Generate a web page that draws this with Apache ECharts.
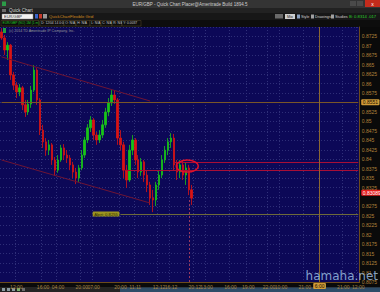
<!DOCTYPE html>
<html><head><meta charset="utf-8">
<script src="https://cdn.jsdelivr.net/npm/echarts@6/dist/echarts.min.js"></script>
<style>html,body{margin:0;padding:0;background:#0a0a0a;overflow:hidden}#c{width:380px;height:292px}</style>
</head><body><div id="c"></div>
<script>
// ---- data ----
const slotCount = 121;
const tickLabels = {5:'12:00',14:'16:00',19:'04:00',27:'20:00',31:'07:00',40:'20:00',45:'11:11',53:'12:12',57:'16:12',65:'20:12',69:'13:00',77:'16:00',83:'19:00',90:'22:00',94:'10:00',102:'21:00',115:'21:00',120:'12:00'};
// [open, close, low, high]
const candles = [
[.8737,.8721,.8716,.8747],[.8721,.8689,.8676,.8729],[.8689,.8702,.8663,.8710],[.8702,.8623,.8610,.8705],
[.8623,.8596,.8583,.8631],[.8596,.8578,.8562,.8604],[.8578,.8589,.8567,.8599],[.8589,.8544,.8530,.8594],
[.8544,.8525,.8512,.8557],[.8525,.8546,.8517,.8557],[.8546,.8583,.8536,.8594],[.8583,.8636,.8578,.8649],
[.8636,.8557,.8544,.8641],[.8557,.8477,.8464,.8562],[.8477,.8446,.8430,.8491],[.8446,.8424,.8409,.8456],
[.8424,.8438,.8411,.8451],[.8438,.8398,.8385,.8443],[.8398,.8371,.8356,.8406],[.8371,.8398,.8364,.8411],
[.8398,.8430,.8393,.8438],[.8430,.8411,.8398,.8440],[.8411,.8403,.8390,.8424],[.8403,.8385,.8371,.8411],
[.8385,.8366,.8350,.8393],[.8366,.8350,.8334,.8377],[.8350,.8377,.8340,.8385],[.8377,.8411,.8371,.8424],
[.8411,.8451,.8403,.8459],[.8451,.8483,.8443,.8493],[.8483,.8504,.8472,.8514],[.8504,.8464,.8451,.8509],
[.8464,.8451,.8438,.8472],[.8451,.8464,.8443,.8477],[.8464,.8491,.8456,.8504],[.8491,.8525,.8483,.8536],
[.8525,.8549,.8514,.8562],[.8549,.8570,.8541,.8583],[.8570,.8557,.8546,.8583],[.8557,.8456,.8438,.8562],
[.8456,.8438,.8424,.8477],[.8438,.8371,.8350,.8446],[.8371,.8345,.8324,.8385],[.8345,.8424,.8340,.8438],
[.8424,.8451,.8411,.8464],[.8451,.8398,.8385,.8456],[.8398,.8366,.8350,.8411],[.8366,.8393,.8356,.8403],
[.8393,.8358,.8340,.8398],[.8358,.8332,.8313,.8371],[.8332,.8297,.8279,.8340],[.8297,.8292,.8260,.8319],
[.8292,.8332,.8276,.8340],[.8332,.8358,.8319,.8371],[.8358,.8398,.8350,.8411],[.8398,.8424,.8390,.8435],
[.8424,.8446,.8411,.8456],[.8446,.8456,.8430,.8469],[.8456,.8385,.8371,.8467],[.8385,.8366,.8345,.8398],
[.8366,.8385,.8350,.8398],[.8385,.8358,.8345,.8398],[.8358,.8377,.8332,.8390],[.8377,.8319,.8305,.8385],
[.8319,.8297,.8279,.8332]
];
const trendUpper = [[0, 0.8671], [50, 0.8554]];
const trendLower = [[0, 0.8398], [50, 0.8284]];
const crossPrice = 0.8551, crossSlot = 107, crossTime = '6:00';
const alertPrice = 0.8255, alertFrom = 40;
const redLevels = [[58, 0.8391], [42, 0.8371]];
const lastPrice = 0.8311, lastText = '0.83089';
const circleAt = [63, 0.8382];
const nowSlot = 63, nowFrom = 0.8292;
const yMin = 0.8075, yMax = 0.875, yStep = 0.0025;

const categories = Array.from({length: slotCount}, (_, i) => tickLabels[i] || '');
const lastSlot = slotCount - 1;

const chart = echarts.init(document.getElementById('c'), null, {renderer: 'svg'});
const F = 'Liberation Sans';
const txt = (x, y, t, fill, size, align) => ({type:'text', x, y, style:{text:t, fill, font: size + 'px "' + F + '"', align: align || 'left', verticalAlign:'middle'}});
const rect = (x, y, w, h, fill, stroke) => ({type:'rect', shape:{x, y, width:w, height:h}, style:{fill, stroke: stroke || null, lineWidth: stroke ? 0.5 : 0}});

const infoBoxes = [['D: 12/04 14 0:00', 40, 24], ['O: N/A', 64, 12], ['H: N/A', 76, 14], ['L: N/A', 90, 11], ['C: N/A', 101, 11], ['R: N/A', 112, 10], ['Y: 0.0037', 122, 19]];

const graphic = [
  rect(0, 0, 380, 8, '#343434'),
  rect(2, 1.5, 4, 4.5, '#2c9c48'),
  txt(190, 4.2, 'EUR/GBP - Quick Chart Placer@Ameritrade Build 1894.5', '#cfcfcf', 4.5, 'center'),
  rect(350, 1, 6, 5, '#4a4a4a'), rect(357, 1, 6, 5, '#4a4a4a'),
  rect(365, 0, 15, 7, '#c42b1c'), txt(372.5, 3.6, 'x', '#ffffff', 5, 'center'),
  rect(0, 8, 380, 5, '#222222'),
  rect(2, 9, 4, 3, '#6a6a6a'),
  txt(9, 10.6, 'Quick Chart', '#d8d8d8', 4.5),
  rect(0, 13, 380, 7, '#171717'),
  rect(2, 14, 31, 5, '#f2f2f2', '#8a8a8a'),
  txt(4, 16.6, 'EUR/GBP', '#202020', 4),
  rect(35, 14, 3, 4.5, '#3a64c8'), rect(39, 14, 3, 4.5, '#c83a2a'), rect(43, 14, 4, 4.5, '#9a9a9a'),
  txt(49, 16.6, 'QuickChartFlexible Grid', '#d08a20', 4.2),
  rect(275, 14, 8, 4.5, '#6a6a6a'),
  rect(285, 14, 10, 5, '#cfcfcf'), txt(290, 16.6, 'Mix', '#202020', 3.8, 'center'),
  rect(297, 14.5, 3, 4, '#8aa0c0'), txt(301, 16.6, 'Style', '#d0d0d0', 3.8),
  rect(311, 14.5, 3, 4, '#a0a0a0'), txt(315, 16.6, 'Drawings', '#d0d0d0', 3.8),
  rect(331, 14.5, 3, 4, '#a0a0a0'), txt(335, 16.6, 'Studies', '#d0d0d0', 3.8),
  txt(349, 16.6, 'B: 0.8314', '#2ad02a', 4.2),
  txt(368, 16.6, '.017', '#2ad02a', 4.2),
  rect(0, 20, 380, 7, '#0d0d0d'),
  rect(1, 20.5, 38, 5.5, '#0d0d0d', '#5a4a2a'),
  txt(2.5, 23.3, 'EUR/GBP (NO) 1M (1 m)', '#22c422', 3.3),
  ...infoBoxes.flatMap(b => [rect(b[1], 20.5, b[2], 5.5, '#0d0d0d', '#5a4a2a'), txt(b[1] + 1.2, 23.3, b[0], '#c8c8c8', 3.3)]),
  rect(0, 287, 380, 5, '#242424'),
  rect(2, 288, 3, 3, '#8a9aa0'), rect(7, 288, 3, 3, '#8a9aa0'), rect(12, 288, 3, 3, '#8a9aa0'), rect(17, 288, 3, 3, '#7ab070'), rect(22, 288, 3, 3, '#6a6a6a'),
  rect(120, 287.5, 260, 4.5, '#2e4c68'),
  {type:'text', z: 100, x: 378, y: 276, style:{text:'hamaha.net', fill:'rgba(165,200,235,0.8)', font:'12px "DejaVu Sans"', align:'right', verticalAlign:'middle'}}
];

const lbl = (o) => Object.assign({show: true, fontSize: 5, fontFamily: F, padding: [0.5, 1.5], borderRadius: 1}, o);
const nearTag = (v) => Math.abs(v - crossPrice) < 0.0012 || Math.abs(v - lastPrice) < 0.0012;
const hLine = (from, v, lineStyle, label) => [{coord: [from, v], lineStyle, label: label || {show: false}}, {coord: [lastSlot, v]}];

chart.setOption({
  animation: false,
  backgroundColor: '#0a0a0a',
  grid: {left: 0, right: 16, top: 27, bottom: 10, show: true, backgroundColor: '#0c0857', borderWidth: 0},
  xAxis: {
    type: 'category', data: categories, boundaryGap: true,
    axisLine: {show: true, lineStyle: {color: '#6b4a1c'}},
    axisTick: {show: false},
    axisLabel: {interval: (i) => categories[i] !== '', color: '#a88444', fontSize: 5, fontFamily: F, margin: 2},
    splitLine: {show: true, interval: (i) => categories[i] !== '', lineStyle: {color: '#30307a', type: [1, 2], width: 1}}
  },
  yAxis: {
    type: 'value', position: 'right', min: yMin, max: yMax, interval: yStep, scale: true,
    axisLine: {show: true, lineStyle: {color: '#6b4a1c'}},
    axisTick: {show: false},
    axisLabel: {color: '#b0823a', fontSize: 5, fontFamily: F, margin: 2, showMaxLabel: false, showMinLabel: true,
      formatter: (v) => nearTag(v) ? '' : String(parseFloat(v.toFixed(4)))},
    splitLine: {show: true, lineStyle: {color: '#2e2e78', type: [1, 2], width: 1}}
  },
  graphic,
  series: [{
    type: 'candlestick', data: candles, barWidth: 2,
    itemStyle: {color: '#18c418', color0: '#d81414', borderColor: '#18c418', borderColor0: '#d81414', borderWidth: 0.8},
    markLine: {
      silent: true, symbol: ['none', 'none'], animation: false,
      data: [
        [{coord: trendUpper[0], lineStyle: {color: '#6e1434', width: 1, type: 'solid'}, label: {show: false}}, {coord: trendUpper[1]}],
        [{coord: trendLower[0], lineStyle: {color: '#6e1434', width: 1, type: 'solid'}, label: {show: false}}, {coord: trendLower[1]}],
        hLine(redLevels[0][0], redLevels[0][1], {color: '#a80e36', width: 1, type: 'solid'}),
        hLine(redLevels[1][0], redLevels[1][1], {color: '#a80e36', width: 1, type: 'solid'}),
        [{coord: [alertFrom, alertPrice], lineStyle: {color: '#6e6a3a', width: 1, type: 'solid'},
          label: lbl({position: 'start', formatter: 'Alert: ' + alertPrice, backgroundColor: '#9c9420', color: '#2a2800', fontSize: 4.2, distance: 1})},
         {coord: [lastSlot, alertPrice]}],
        [{coord: [nowSlot, nowFrom], lineStyle: {color: '#9a3a60', width: 1, type: [2, 2]}, label: {show: false}}, {coord: [nowSlot, yMin]}],
        hLine(0, crossPrice, {color: '#7a5628', width: 1, type: 'solid'},
          lbl({position: 'end', formatter: String(crossPrice), backgroundColor: '#d09a38', color: '#1a1000', distance: 3})),
        [{coord: [crossSlot, yMin], lineStyle: {color: '#8a6632', width: 1, type: 'solid'},
          label: lbl({position: 'start', formatter: crossTime, backgroundColor: '#d09a38', color: '#1a1000', distance: 1})},
         {coord: [crossSlot, yMax]}],
        hLine(0, lastPrice, {color: 'rgba(0,0,0,0)', width: 1},
          lbl({position: 'end', formatter: lastText, backgroundColor: '#e41c1c', color: '#ffffff', distance: 3}))
      ]
    }
  }]
});

const cp = chart.convertToPixel({gridIndex: 0}, circleAt);
chart.setOption({graphic: graphic.concat([
  txt(9, 31, '(c) 2014 TD Ameritrade IP Company, Inc.', '#9a9a9a', 3.6),
  rect(3, 28, 3, 5, '#1fa040'),
  {type: 'ellipse', z: 50, shape: {cx: cp[0] - 1.5, cy: cp[1], rx: 11, ry: 6}, style: {fill: 'none', stroke: '#e0102a', lineWidth: 1.4}}
])});
</script>
</body></html>
